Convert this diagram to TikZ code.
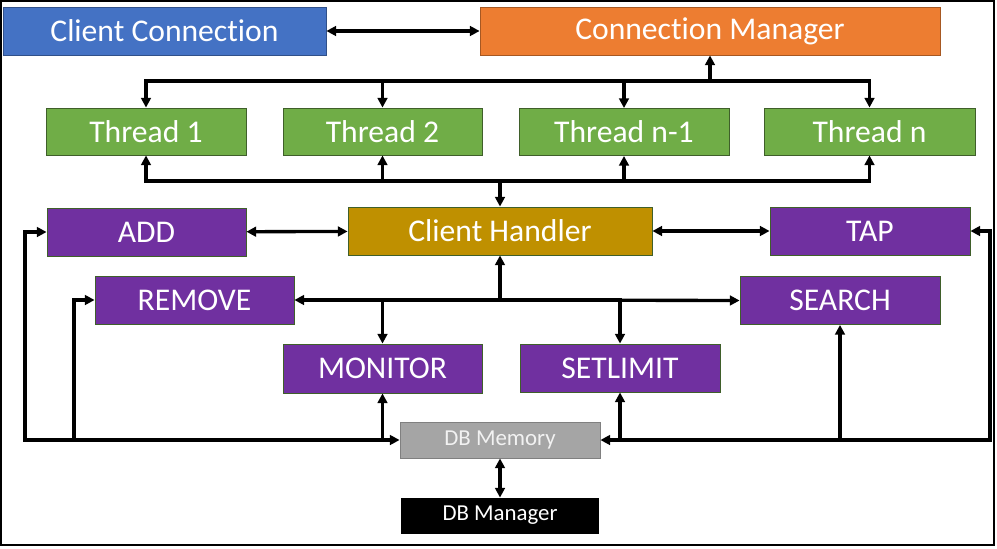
\documentclass[tikz,border=0pt]{standalone}
\usepackage{fontspec}
\setmainfont{Carlito}[Ligatures=NoCommon]
\usepackage{xcolor}
\usetikzlibrary{arrows.meta,positioning}

\definecolor{ccblue}{HTML}{4472C4}
\definecolor{cmorange}{HTML}{ED7D31}
\definecolor{thgreen}{HTML}{70AD47}
\definecolor{chgold}{HTML}{BF9000}
\definecolor{oppurple}{HTML}{7030A0}
\definecolor{dbgray}{HTML}{A5A5A5}
\definecolor{edgegreen}{HTML}{3F5F2A}

\begin{document}
\begin{tikzpicture}[
  x=0.02cm, y=-0.02cm, >=Triangle,
  box/.style={draw=edgegreen, line width=0.5pt, inner sep=0pt, minimum height=0.96cm, text=white, font=\fontsize{18}{21}\selectfont, align=center},
  dbbox/.style={box, minimum height=0.72cm, font=\fontsize{13}{15}\selectfont},
  arrow/.style={line width=1.9pt, black, arrows={-Triangle[length=5.5pt,width=5.5pt]}},
  dbl/.style={arrow, arrows={Triangle[length=5.5pt,width=5.5pt]-Triangle[length=5.5pt,width=5.5pt]}}
]

\useasboundingbox (0,0) rectangle (997,548);
\draw[line width=1.2pt] (1,1) rectangle (994,545);

\node[box, fill=ccblue, draw=ccblue!70!black, minimum width=6.46cm] (cc) at (164.5,31) {Client Connection};
\node[box, fill=cmorange, draw=cmorange!70!black, minimum width=9.2cm] (cm) at (710,31) {Connection Manager};

\node[box, fill=thgreen, minimum width=4cm, minimum height=0.94cm] (t1) at (146,131.5) {Thread 1};
\node[box, fill=thgreen, minimum width=3.98cm, minimum height=0.94cm] (t2) at (382.5,131.5) {Thread 2};
\node[box, fill=thgreen, minimum width=4.2cm, minimum height=0.94cm] (t3) at (624,132) {Thread n-1};
\node[box, fill=thgreen, minimum width=4.22cm, minimum height=0.94cm] (t4) at (869.5,131.5) {Thread n};

\node[box, fill=oppurple, minimum width=3.98cm] (add) at (146.5,232) {ADD};
\node[box, fill=chgold, minimum width=6.08cm] (ch) at (500,231) {Client Handler};
\node[box, fill=oppurple, minimum width=4cm] (tap) at (870,231) {TAP};
\node[box, fill=oppurple, minimum width=3.98cm] (rem) at (194.5,300) {REMOVE};
\node[box, fill=oppurple, minimum width=4cm] (srch) at (840,300.5) {SEARCH};
\node[box, fill=oppurple, minimum width=3.98cm, minimum height=0.98cm] (mon) at (382.5,368.5) {MONITOR};
\node[box, fill=oppurple, minimum width=4cm] (setl) at (620,368) {SETLIMIT};

\node[dbbox, fill=dbgray, draw=black!50, text=black!5, minimum width=4cm] (dbm) at (500,440) {DB Memory};
\node[dbbox, fill=black, draw=black, minimum width=3.94cm, minimum height=0.7cm] (dbmgr) at (500,515.5) {DB Manager};

\coordinate (topbus) at (710,81);
\coordinate (botbus) at (500,181);
\coordinate (midbus) at (500,300);
\coordinate (lcorner) at (25,440);
\coordinate (ltap) at (74,440);
\coordinate (rcorner) at (990,440);

\draw[dbl] (cc) -- (cm);

\draw[arrow] (topbus) -- (cm.south);
\draw[arrow] (topbus) -| (t1.north);
\draw[arrow] (topbus) -| (t2.north);
\draw[arrow] (topbus) -| (t3.north);
\draw[arrow] (topbus) -| (t4.north);

\draw[arrow] (botbus) -| (t1.south);
\draw[arrow] (botbus) -| (t2.south);
\draw[arrow] (botbus) -| (t3.south);
\draw[arrow] (botbus) -| (t4.south);
\draw[arrow] (botbus) -- (ch.north);

\draw[dbl] (add) -- (ch);
\draw[dbl] (ch) -- (tap);

\draw[arrow] (midbus) -- (ch.south);
\draw[arrow] (midbus) -- (rem.east);
\draw[arrow] (midbus) -- (srch.west);
\draw[arrow] (midbus) -| (mon.north);
\draw[arrow] (midbus) -| (setl.north);

\draw[dbl] (add.west) -| (lcorner) -- (dbm.west);
\draw[arrow] (ltap) |- (rem.west);
\draw[arrow] (mon.south |- dbm.west) -- (mon.south);
\draw[dbl] (tap.east) -| (rcorner) -- (dbm.east);
\draw[arrow] (setl.south |- dbm.east) -- (setl.south);
\draw[arrow] (srch.south |- dbm.east) -- (srch.south);

\draw[dbl] (dbm) -- (dbmgr);

\end{tikzpicture}
\end{document}
